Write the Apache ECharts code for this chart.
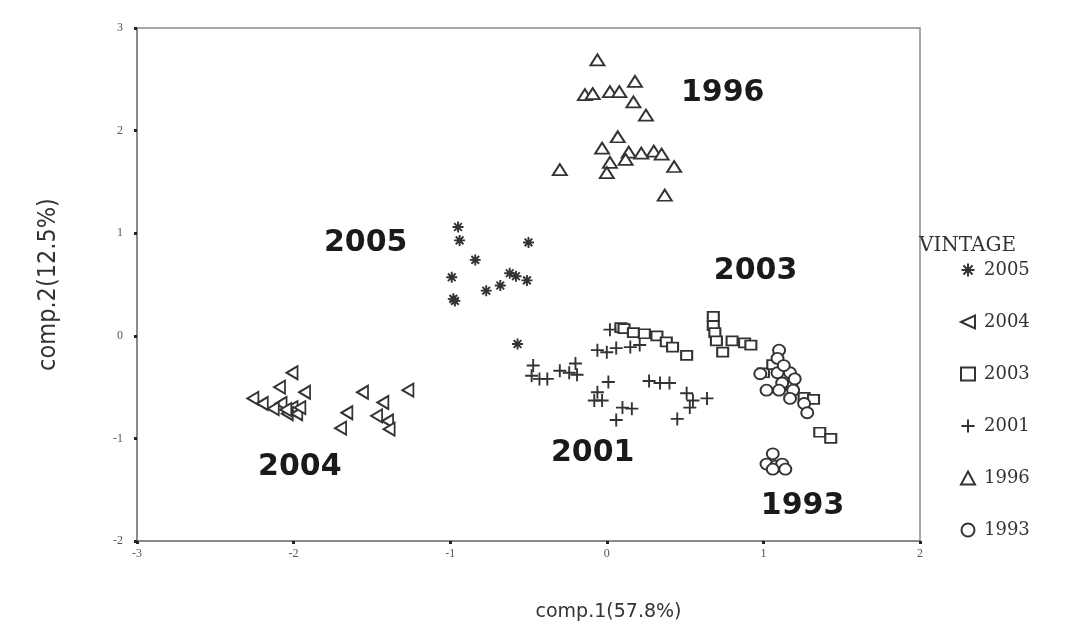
<!DOCTYPE html>
<html><head><meta charset="utf-8">
<script src="https://cdn.jsdelivr.net/npm/echarts@6/dist/echarts.min.js"></script>
<style>html,body{margin:0;padding:0;background:#fff}#c{width:1087px;height:643px}</style>
</head><body><div id="c"></div>
<script>
var xTicks = [-3, -2, -1, 0, 1, 2];
var yTicks = [-2, -1, 0, 1, 2, 3];
var vintages = ['2005', '2004', '2003', '2001', '1996', '1993'];

var s2005 = [[-0.95,1.06],[-0.94,0.93],[-0.50,0.91],[-0.84,0.74],[-0.99,0.57],[-0.98,0.36],[-0.97,0.34],[-0.77,0.44],[-0.68,0.49],[-0.62,0.61],[-0.58,0.58],[-0.51,0.54],[-0.57,-0.08],[-2.01,-0.72],[-1.99,-0.74],[1.10,-0.37],[1.12,-1.28]];
var s2004 = [[-2.01,-0.36],[-2.26,-0.61],[-2.09,-0.50],[-1.93,-0.55],[-2.08,-0.66],[-2.01,-0.70],[-2.20,-0.66],[-2.13,-0.71],[-2.04,-0.76],[-1.98,-0.76],[-1.56,-0.55],[-1.27,-0.53],[-1.43,-0.65],[-1.66,-0.75],[-1.47,-0.78],[-1.40,-0.83],[-1.70,-0.90],[-1.39,-0.91],[-2.05,-0.72],[-1.96,-0.70]];
var s2003 = [[0.09,0.08],[0.11,0.07],[0.17,0.03],[0.24,0.02],[0.32,0.0],[0.38,-0.06],[0.42,-0.11],[0.51,-0.19],[0.68,0.19],[0.68,0.10],[0.69,0.03],[0.70,-0.05],[0.74,-0.16],[0.80,-0.05],[0.88,-0.07],[0.92,-0.09],[1.36,-0.94],[1.43,-1.00],[1.00,-0.36],[1.18,-0.48],[1.26,-0.60],[1.32,-0.62],[1.06,-0.28]];
var s2001 = [[-0.47,-0.29],[-0.48,-0.39],[-0.43,-0.42],[-0.38,-0.42],[-0.30,-0.34],[-0.24,-0.36],[-0.20,-0.27],[-0.19,-0.38],[-0.06,-0.14],[0.0,-0.16],[0.06,-0.12],[0.15,-0.11],[0.21,-0.09],[0.02,0.06],[0.01,-0.45],[-0.06,-0.55],[-0.08,-0.63],[-0.03,-0.63],[0.10,-0.70],[0.16,-0.71],[0.06,-0.82],[0.27,-0.44],[0.34,-0.46],[0.40,-0.46],[0.51,-0.56],[0.55,-0.63],[0.64,-0.61],[0.53,-0.70],[0.45,-0.81]];
var s1996 = [[-0.06,2.69],[-0.14,2.35],[-0.09,2.36],[0.02,2.38],[0.08,2.38],[0.18,2.48],[0.17,2.28],[0.25,2.15],[0.07,1.94],[-0.03,1.83],[0.14,1.79],[0.02,1.69],[0.0,1.59],[0.30,1.80],[0.35,1.77],[0.43,1.65],[-0.30,1.62],[0.37,1.37],[0.12,1.72],[0.22,1.78]];
var s1993 = [[1.10,-0.14],[1.09,-0.22],[0.98,-0.37],[1.09,-0.36],[1.17,-0.36],[1.12,-0.46],[1.02,-0.53],[1.10,-0.53],[1.19,-0.53],[1.17,-0.61],[1.26,-0.66],[1.28,-0.75],[1.06,-1.15],[1.02,-1.25],[1.08,-1.27],[1.12,-1.25],[1.06,-1.30],[1.14,-1.30],[1.20,-0.42],[1.13,-0.29]];

var clusterLabels = [[0.74,2.36,'1996'],[-1.54,0.90,'2005'],[0.95,0.63,'2003'],[-0.09,-1.14,'2001'],[-1.96,-1.28,'2004'],[1.25,-1.66,'1993']];

var seriesData = [s2005, s2004, s2003, s2001, s1996, s1993];
var symbols = [
  'path://M0,5L10,5M5,0L5,10M1.5,1.5L8.5,8.5M8.5,1.5L1.5,8.5',
  'path://M0,5L11,0L11,10Z',
  'rect',
  'path://M0,5L10,5M5,0L5,10',
  'triangle',
  'circle'
];
var sizes = [[11,11],[11,13],[11,9],[13,13],[14,11],[12,11]];
var ink = '#333';

var series = seriesData.map(function (d, i) {
  return {
    name: vintages[i], type: 'scatter', data: d,
    symbol: symbols[i], symbolSize: sizes[i],
    itemStyle: { color: (i === 0 || i === 3) ? 'none' : '#fff', borderColor: ink, borderWidth: 1.9, opacity: 1 },
    z: 3
  };
});
series.push({
  name: 'labels', type: 'scatter', symbolSize: 0, silent: true,
  data: clusterLabels.map(function (l) { return { value: [l[0], l[1]], name: l[2] }; }),
  label: { show: true, position: 'inside', formatter: '{b}', fontFamily: 'DejaVu Sans, sans-serif', fontWeight: 'bold', fontSize: 30, color: '#1a1a1a', textBorderWidth: 0 },
  itemStyle: { opacity: 1 },
  z: 5
});

var chart = echarts.init(document.getElementById('c'));
chart.setOption({
  animation: false,
  backgroundColor: '#fff',
  title: { text: 'VINTAGE', left: 914, top: 231, textStyle: { fontFamily: 'DejaVu Serif, serif', fontWeight: 'normal', fontSize: 20, color: '#333' } },
  legend: {
    data: vintages, orient: 'vertical', left: 954, top: 256, itemGap: 34, itemWidth: 14, itemHeight: 13,
    textStyle: { fontFamily: 'DejaVu Serif, serif', fontSize: 18, color: '#333', padding: [0, 0, 0, 4] }
  },
  grid: { left: 137, top: 28, right: 167, bottom: 102, show: true, borderColor: '#8a8a8a', borderWidth: 1.5 },
  xAxis: {
    type: 'value', min: -3, max: 2, interval: 1,
    name: 'comp.1(57.8%)', nameLocation: 'middle', nameGap: 62,
    nameTextStyle: { fontFamily: 'DejaVu Sans, sans-serif', fontSize: 19, color: '#333', padding: [0, 0, 0, 160] },
    axisLine: { show: true, onZero: false, lineStyle: { color: '#8a8a8a', width: 2 } },
    axisTick: { show: true, length: 3, lineStyle: { color: '#222', width: 3 } },
    axisLabel: { fontFamily: 'Liberation Serif, serif', fontSize: 12, color: '#555', margin: 7 },
    splitLine: { show: false }
  },
  yAxis: {
    type: 'value', min: -2, max: 3, interval: 1,
    name: 'comp.2(12.5%)', nameLocation: 'middle', nameGap: 76, nameRotate: 90,
    nameTextStyle: { fontFamily: 'DejaVu Sans Condensed, DejaVu Sans, sans-serif', fontSize: 25, color: '#333', padding: [0, 0, 0, 0] },
    axisLine: { show: true, onZero: false, lineStyle: { color: '#8a8a8a', width: 2 } },
    axisTick: { show: true, length: 3, lineStyle: { color: '#222', width: 3 } },
    axisLabel: { fontFamily: 'Liberation Serif, serif', fontSize: 12, color: '#555', margin: 14 },
    splitLine: { show: false }
  },
  series: series
});
</script></body></html>
